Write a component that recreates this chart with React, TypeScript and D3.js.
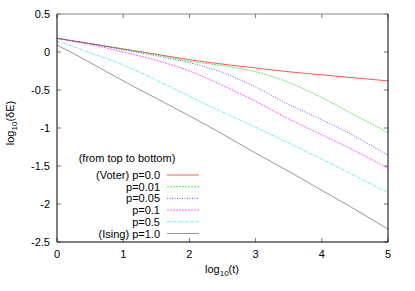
import * as d3 from "d3";

// log10(t) sample positions shared by all curves
const times = [0, 0.25, 0.5, 1, 1.5, 2, 2.5, 3, 3.5, 4, 4.5, 5];

// log10(dE) for each p
const voter = [0.18, 0.145, 0.11, 0.04, -0.03, -0.1, -0.16, -0.21, -0.26, -0.3, -0.34, -0.38];
const p001 = [0.18, 0.145, 0.11, 0.04, -0.035, -0.12, -0.18, -0.26, -0.4, -0.6, -0.83, -1.06];
const p005 = [0.18, 0.145, 0.11, 0.03, -0.05, -0.14, -0.27, -0.46, -0.69, -0.89, -1.11, -1.36];
const p01 = [0.18, 0.14, 0.1, 0.0, -0.11, -0.25, -0.44, -0.65, -0.88, -1.09, -1.3, -1.53];
const p05 = [0.14, 0.07, -0.01, -0.17, -0.37, -0.58, -0.79, -0.99, -1.2, -1.41, -1.63, -1.85];
const ising = [0.09, -0.02, -0.14, -0.38, -0.61, -0.84, -1.08, -1.33, -1.57, -1.82, -2.07, -2.33];

const seriesNames = ["(Voter) p=0.0", "p=0.01", "p=0.05", "p=0.1", "p=0.5", "(Ising) p=1.0"];
const seriesValues = [voter, p001, p005, p01, p05, ising];
const seriesColors = ["#ff0000", "#00e000", "#0000ff", "#ff00ff", "#00e8e8", "#606060"];
const seriesDash = ["", "2,1", "1,1.5", "2,1", "3,1,1,1", ""];

const xTicks = [0, 1, 2, 3, 4, 5];
const yTicks = [0.5, 0, -0.5, -1, -1.5, -2, -2.5];

const W = 415;
const H = 291;
const font = "'Liberation Sans', Arial, Helvetica, sans-serif";

export default function App() {
  const x = d3.scaleLinear().domain([0, 5]).range([57, 388]);
  const y = d3.scaleLinear().domain([-2.5, 0.5]).range([242, 14]);
  const line = d3
    .line<[number, number]>()
    .x((d) => x(d[0]))
    .y((d) => y(d[1]))
    .curve(d3.curveMonotoneX);

  const [x0, x1] = x.range();
  const [y0, y1] = y.range();
  const tickLen = 4;

  return (
    <svg
      width={W}
      height={H}
      style={{ position: "absolute", left: 0, top: 0, background: "#fff" }}
      fontFamily={font}
      fontSize={11}
    >
      {/* tick marks, mirrored on all sides */}
      {xTicks.map((t) => (
        <g key={"xt" + t} stroke="#777" strokeWidth={1}>
          <line x1={x(t)} x2={x(t)} y1={y0} y2={y0 - tickLen} />
          <line x1={x(t)} x2={x(t)} y1={y1} y2={y1 + tickLen} />
        </g>
      ))}
      {yTicks.map((t) => (
        <g key={"yt" + t} stroke="#777" strokeWidth={1}>
          <line x1={x0} x2={x0 + tickLen} y1={y(t)} y2={y(t)} />
          <line x1={x1} x2={x1 - tickLen} y1={y(t)} y2={y(t)} />
        </g>
      ))}

      {/* curves */}
      {seriesValues.map((vals, i) => (
        <path
          key={seriesNames[i]}
          d={line(times.map((t, j) => [t, vals[j]] as [number, number])) || ""}
          fill="none"
          stroke={seriesColors[i]}
          strokeWidth={1}
          strokeDasharray={seriesDash[i]}
          opacity={0.65}
        />
      ))}

      {/* border */}
      <line x1={x0} x2={x1} y1={y1} y2={y1} stroke="#888" strokeWidth={1} />
      <line x1={x0} x2={x0} y1={y1} y2={y0} stroke="#000" strokeWidth={1} />
      <line x1={x1} x2={x1} y1={y1} y2={y0} stroke="#000" strokeWidth={1} />
      <line x1={x0} x2={x1} y1={y0} y2={y0} stroke="#000" strokeWidth={1} />

      {/* tick labels */}
      {xTicks.map((t) => (
        <text key={"xl" + t} x={x(t)} y={y0 + 16} textAnchor="middle">
          {t}
        </text>
      ))}
      {yTicks.map((t) => (
        <text key={"yl" + t} x={x0 - 7} y={y(t) + 4} textAnchor="end">
          {t}
        </text>
      ))}

      {/* axis titles */}
      <text x={222} y={273} textAnchor="middle">
        log<tspan fontSize={8} dy={3}>10</tspan>
        <tspan dy={-3}>(t)</tspan>
      </text>
      <text transform="translate(14,123) rotate(-90)" textAnchor="middle">
        log<tspan fontSize={8} dy={3}>10</tspan>
        <tspan dy={-3}>(δE)</tspan>
      </text>

      {/* legend */}
      <text x={127} y={162} textAnchor="middle">
        (from top to bottom)
      </text>
      {seriesNames.map((name, i) => {
        const ly = 175 + i * 11.7;
        return (
          <g key={"lg" + i}>
            <text x={160} y={ly + 4} textAnchor="end">
              {name}
            </text>
            <line
              x1={167}
              x2={199}
              y1={ly}
              y2={ly}
              stroke={seriesColors[i]}
              strokeWidth={1}
              strokeDasharray={seriesDash[i]}
              opacity={0.65}
            />
          </g>
        );
      })}
    </svg>
  );
}
